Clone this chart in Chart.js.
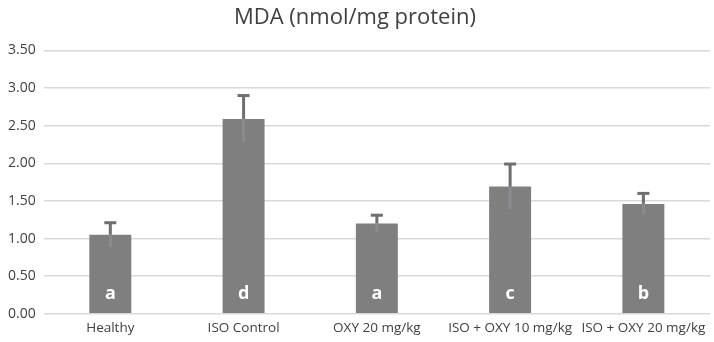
<!DOCTYPE html>
<html>
<head>
<meta charset="utf-8">
<script src="https://cdn.jsdelivr.net/npm/chart.js@4"></script>
<style>
  html, body { margin: 0; padding: 0; background: #fff; }
  #wrap { width: 714px; height: 342px; }
</style>
</head>
<body>
<div id="wrap"><canvas id="mda-chart"></canvas></div>
<script>
const groups = ['Healthy', 'ISO Control', 'OXY 20 mg/kg', 'ISO + OXY 10 mg/kg', 'ISO + OXY 20 mg/kg'];
const mdaMeans = [1.05, 2.59, 1.20, 1.69, 1.46];
const mdaErrors = [0.16, 0.31, 0.11, 0.30, 0.14];
const sigLetters = ['a', 'd', 'a', 'c', 'b'];

// error bars + significance letters drawn after the bars
const errorBarPlugin = {
    id: 'errorBars',
    afterDatasetsDraw(chart) {
        const ctx = chart.ctx;
        const y = chart.scales.y;
        const meta = chart.getDatasetMeta(0);
        meta.data.forEach((bar, i) => {
            const x = bar.x;
            const top = y.getPixelForValue(mdaMeans[i] + mdaErrors[i]);
            const mid = y.getPixelForValue(mdaMeans[i]);
            const low = y.getPixelForValue(mdaMeans[i] - mdaErrors[i]);
            ctx.save();
            ctx.strokeStyle = '#8a8a90';
            ctx.lineWidth = 3;
            ctx.beginPath();
            ctx.moveTo(x, mid);
            ctx.lineTo(x, low);
            ctx.stroke();
            ctx.strokeStyle = '#6e6e73';
            ctx.beginPath();
            ctx.moveTo(x, top);
            ctx.lineTo(x, mid);
            ctx.stroke();
            ctx.beginPath();
            ctx.moveTo(x - 6, top);
            ctx.lineTo(x + 6, top);
            ctx.stroke();

            ctx.fillStyle = '#ffffff';
            ctx.font = 'bold 18px "Open Sans", sans-serif';
            ctx.textAlign = 'center';
            ctx.textBaseline = 'middle';
            ctx.fillText(sigLetters[i], x, y.getPixelForValue(0) - 20);
            ctx.restore();
        });
    }
};

const ctx = document.getElementById('mda-chart').getContext('2d');
new Chart(ctx, {
    type: 'bar',
    data: {
        labels: groups,
        datasets: [{
            label: 'MDA',
            data: mdaMeans,
            backgroundColor: '#7f7f7f',
            categoryPercentage: 1.0,
            barPercentage: 0.315
        }]
    },
    options: {
        responsive: true,
        maintainAspectRatio: false,
        animation: false,
        layout: { padding: { left: 0, right: 4, top: 0, bottom: 0 } },
        plugins: {
            legend: { display: false },
            tooltip: { enabled: false },
            title: {
                display: true,
                text: 'MDA (nmol/mg protein)',
                color: '#404040',
                font: { family: '"Open Sans", sans-serif', size: 22, weight: 'normal' },
                padding: { top: 5, bottom: 19 }
            }
        },
        scales: {
            x: {
                grid: { display: false, drawTicks: false },
                border: { display: false },
                ticks: {
                    color: '#404040',
                    font: { family: '"Open Sans", sans-serif', size: 13.5 },
                    maxRotation: 0,
                    autoSkip: false,
                    padding: 6
                }
            },
            y: {
                min: 0,
                max: 3.5,
                grid: { color: '#d9d9d9', lineWidth: 1.5, drawTicks: false },
                border: { display: false },
                ticks: {
                    stepSize: 0.5,
                    color: '#404040',
                    font: { family: '"Open Sans", sans-serif', size: 14 },
                    padding: 8,
                    callback: v => v.toFixed(2)
                }
            }
        }
    },
    plugins: [errorBarPlugin]
});
</script>
</body>
</html>
